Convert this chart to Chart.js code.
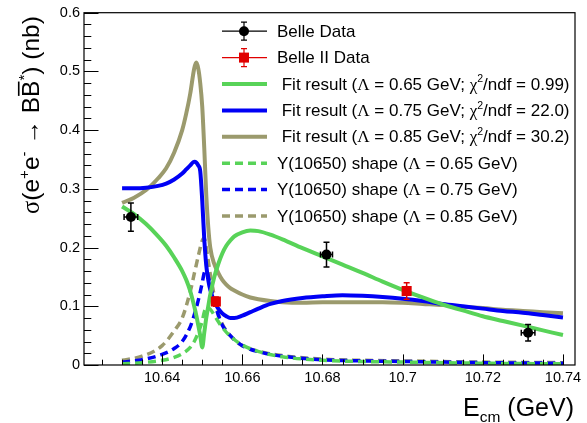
<!DOCTYPE html>
<html>
<head>
<meta charset="utf-8">
<script src="https://cdn.jsdelivr.net/npm/chart.js@4.4.0/dist/chart.umd.min.js"></script>
<style>
html, body { margin: 0; padding: 0; background: #fff; }
#layout { width: 587px; height: 423px; }
</style>
</head>
<body>
<div id="layout"><canvas id="canvas" width="587" height="423"></canvas></div>
<script>
// x values (GeV) for the fit curves
var fitX = [10.630, 10.633, 10.636, 10.639, 10.641, 10.643, 10.645, 10.646, 10.647, 10.648,
	10.6485, 10.649, 10.6495, 10.650, 10.6505, 10.651, 10.6515, 10.652, 10.653, 10.654,
	10.655, 10.656, 10.657, 10.658, 10.660, 10.662, 10.664, 10.667, 10.670, 10.675,
	10.680, 10.685, 10.690, 10.695, 10.700, 10.705, 10.710, 10.715, 10.720, 10.725,
	10.730, 10.735, 10.740];
var fit065 = [0.270, 0.257, 0.240, 0.219, 0.203, 0.183, 0.160, 0.145, 0.126, 0.100,
	0.085, 0.068, 0.050, 0.030, 0.055, 0.080, 0.100, 0.120, 0.150, 0.172,
	0.190, 0.203, 0.212, 0.219, 0.226, 0.229, 0.228, 0.222, 0.214, 0.199,
	0.185, 0.171, 0.157, 0.142, 0.128, 0.115, 0.103, 0.093, 0.083, 0.075,
	0.067, 0.059, 0.051];
var fit075 = [0.301, 0.301, 0.302, 0.305, 0.309, 0.316, 0.326, 0.333, 0.340, 0.346,
	0.345, 0.340, 0.330, 0.280, 0.215, 0.170, 0.145, 0.128, 0.108, 0.096,
	0.088, 0.083, 0.080, 0.080, 0.084, 0.090, 0.096, 0.104, 0.109, 0.114,
	0.117, 0.119, 0.118, 0.116, 0.113, 0.109, 0.104, 0.100, 0.096, 0.092,
	0.089, 0.085, 0.081];
var fit085 = [0.276, 0.285, 0.298, 0.318, 0.335, 0.362, 0.400, 0.428, 0.462, 0.505,
	0.515, 0.505, 0.480, 0.440, 0.370, 0.290, 0.235, 0.200, 0.172, 0.157,
	0.145, 0.137, 0.131, 0.127, 0.120, 0.115, 0.112, 0.109, 0.107, 0.106,
	0.107, 0.107, 0.107, 0.107, 0.106, 0.104, 0.102, 0.099, 0.097, 0.094,
	0.092, 0.090, 0.088];

// Y(10650) shapes
var shapeX = [10.630, 10.635, 10.640, 10.643, 10.645, 10.647, 10.648, 10.649, 10.650, 10.6505,
	10.651, 10.652, 10.653, 10.654, 10.655, 10.657, 10.660, 10.665, 10.670, 10.680,
	10.690, 10.700, 10.720, 10.740];
var shape065 = [0.002, 0.004, 0.008, 0.013, 0.019, 0.030, 0.040, 0.055, 0.075, 0.090,
	0.098, 0.095, 0.085, 0.074, 0.064, 0.049, 0.034, 0.021, 0.014, 0.008,
	0.006, 0.005, 0.003, 0.002];
var shape075 = [0.005, 0.009, 0.018, 0.028, 0.040, 0.065, 0.085, 0.110, 0.140, 0.157,
	0.160, 0.135, 0.108, 0.085, 0.068, 0.050, 0.033, 0.021, 0.015, 0.009,
	0.007, 0.006, 0.004, 0.003];
var shape085 = [0.008, 0.015, 0.033, 0.058, 0.080, 0.125, 0.155, 0.185, 0.212, 0.216,
	0.200, 0.155, 0.118, 0.088, 0.070, 0.050, 0.033, 0.022, 0.016, 0.010,
	0.008, 0.007, 0.005, 0.004];

// measurements
var belleX = [10.6322, 10.6810, 10.7313];
var belleY = [0.252, 0.188, 0.055];
var belleXErr = [0.0017, 0.0015, 0.0017];
var belleYErr = [0.024, 0.021, 0.014];
var belle2X = [10.6534, 10.7010];
var belle2Y = [0.108, 0.126];
var belle2YErr = [0.008, 0.014];

var xTicks = [10.64, 10.66, 10.68, 10.70, 10.72, 10.74];
var xTickLabels = ['10.64', '10.66', '10.68', '10.7', '10.72', '10.74'];
var yTickLabels = ['0', '0.1', '0.2', '0.3', '0.4', '0.5', '0.6'];

var lambdas = ['0.65', '0.75', '0.85'];
var chi2 = ['0.99', '22.0', '30.2'];

var green = '#58d358', blue = '#0000f5', olive = '#9b9a6d';
var SANS = '"Liberation Sans", Arial, sans-serif';
var SERIF = '"Liberation Serif", "Times New Roman", serif';

function pts(xs, ys) {
	return xs.map(function(x, i) { return { x: x, y: ys[i] }; });
}

function curve(label, xs, ys, color, dashed) {
	return {
		label: label, data: pts(xs, ys), type: 'line', showLine: true,
		borderColor: color, backgroundColor: color,
		borderWidth: dashed ? 3.5 : 4, borderDash: dashed ? [8, 5] : [],
		pointRadius: 0, cubicInterpolationMode: 'monotone', fill: false,
		order: dashed ? 3 : 2
	};
}

// draws text with super/subscripts, returns width
function rich(ctx, parts, x, y, size, draw) {
	var cx = x;
	parts.forEach(function(p) {
		if (typeof p === 'string') p = { t: p };
		var fs = (p.sup || p.sub) ? size * 0.62 : size;
		ctx.font = fs + 'px ' + (p.serif ? SERIF : SANS);
		var dy = p.sup ? -size * 0.42 : (p.sub ? size * 0.25 : 0);
		var w = ctx.measureText(p.t).width;
		if (draw) {
			ctx.fillText(p.t, cx, y + dy);
			if (p.over) ctx.fillRect(cx + 1, y - size * 0.86, w - 2, 1.6);
		}
		cx += w;
	});
	return cx - x;
}

function errBar(ctx, px, py, yLo, yHi, xLo, xHi, cap) {
	ctx.beginPath();
	ctx.moveTo(px, yLo); ctx.lineTo(px, yHi);
	ctx.moveTo(px - cap, yLo); ctx.lineTo(px + cap, yLo);
	ctx.moveTo(px - cap, yHi); ctx.lineTo(px + cap, yHi);
	if (xLo !== null) {
		ctx.moveTo(xLo, py); ctx.lineTo(xHi, py);
		ctx.moveTo(xLo, py - cap); ctx.lineTo(xLo, py + cap);
		ctx.moveTo(xHi, py - cap); ctx.lineTo(xHi, py + cap);
	}
	ctx.stroke();
}

var rootStyle = {
	id: 'rootStyle',
	beforeDatasetDraw: function(chart, args) {
		var ctx = chart.ctx, xs = chart.scales.x, ys = chart.scales.y;
		var lbl = chart.data.datasets[args.index].label;
		ctx.save();
		ctx.lineWidth = 1.5;
		if (lbl === 'Belle Data') {
			ctx.strokeStyle = '#000';
			belleX.forEach(function(x, i) {
				errBar(ctx, xs.getPixelForValue(x), ys.getPixelForValue(belleY[i]),
					ys.getPixelForValue(belleY[i] - belleYErr[i]), ys.getPixelForValue(belleY[i] + belleYErr[i]),
					xs.getPixelForValue(x - belleXErr[i]), xs.getPixelForValue(x + belleXErr[i]), 3);
			});
		} else if (lbl === 'Belle II Data') {
			ctx.strokeStyle = '#e00000';
			belle2X.forEach(function(x, i) {
				errBar(ctx, xs.getPixelForValue(x), ys.getPixelForValue(belle2Y[i]),
					ys.getPixelForValue(belle2Y[i] - belle2YErr[i]), ys.getPixelForValue(belle2Y[i] + belle2YErr[i]),
					null, null, 3);
			});
		}
		ctx.restore();
	},
	afterDraw: function(chart) {
		var ctx = chart.ctx, a = chart.chartArea, xs = chart.scales.x, ys = chart.scales.y;
		ctx.save();
		// frame
		ctx.strokeStyle = '#000';
		ctx.lineWidth = 1.2;
		ctx.strokeRect(a.left, a.top, a.right - a.left, a.bottom - a.top);
		// inward ticks
		ctx.lineWidth = 1;
		ctx.beginPath();
		for (var i = 0; i <= 30; i++) {
			var py = Math.round(ys.getPixelForValue(i * 0.02)) + 0.5;
			var len = (i % 5 === 0) ? 14.5 : 7.3;
			ctx.moveTo(a.left, py); ctx.lineTo(a.left + len, py);
		}
		for (var k = Math.ceil(xs.min / 0.005); k * 0.005 <= xs.max + 1e-9; k++) {
			var px = Math.round(xs.getPixelForValue(k * 0.005)) + 0.5;
			var l2 = (k % 4 === 0) ? 10.6 : 5.3;
			ctx.moveTo(px, a.bottom); ctx.lineTo(px, a.bottom - l2);
		}
		ctx.stroke();

		ctx.fillStyle = '#000';
		ctx.textBaseline = 'alphabetic';
		ctx.textAlign = 'left';
		// x title
		var xt = ['E', { t: 'cm', sub: true }, ' (GeV)'];
		var w = rich(ctx, xt, 0, 0, 25, false);
		rich(ctx, xt, 574 - w, 416, 25, true);
		// y title
		var yt = [{ t: 'σ', serif: true }, '(e', { t: '+', sup: true }, 'e', { t: '-', sup: true }, ' → B',
			{ t: 'B', over: true }, { t: '*', sup: true }, ') (nb)'];
		ctx.save();
		ctx.translate(39, 115);
		ctx.rotate(-Math.PI / 2);
		var wy = rich(ctx, yt, 0, 0, 24.5, false);
		rich(ctx, yt, -wy / 2, 0, 24.5, true);
		ctx.restore();

		// legend
		var base = 36.7, step = 26.4, sx0 = 222, sx1 = 267, sxc = 244, tx = 277, fs = 17;
		var entries = [];
		entries.push({ kind: 'belle', text: ['Belle Data'] });
		entries.push({ kind: 'belle2', text: ['Belle II Data'] });
		var cols = [green, blue, olive];
		lambdas.forEach(function(l, i) {
			entries.push({ kind: 'fit', color: cols[i], text: [' Fit result (', { t: 'Λ', serif: true }, ' = ' + l + ' GeV; ',
				{ t: 'χ', serif: true }, { t: '2', sup: true }, '/ndf = ' + chi2[i] + ')'] });
		});
		lambdas.forEach(function(l, i) {
			entries.push({ kind: 'shape', color: cols[i], text: ['Y(10650) shape (', { t: 'Λ', serif: true }, ' = ' + l + ' GeV)'] });
		});
		entries.forEach(function(e, i) {
			var by = base + i * step, cy = by - 5.5;
			ctx.save();
			if (e.kind === 'belle' || e.kind === 'belle2') {
				var c = e.kind === 'belle' ? '#000' : '#e00000';
				ctx.strokeStyle = c; ctx.fillStyle = c; ctx.lineWidth = 1.2;
				ctx.beginPath(); ctx.moveTo(sx0, cy); ctx.lineTo(sx1, cy); ctx.stroke();
				errBar(ctx, sxc, cy, cy + 9, cy - 9, null, null, 3);
				ctx.beginPath();
				if (e.kind === 'belle') ctx.arc(sxc, cy, 5, 0, Math.PI * 2);
				else ctx.rect(sxc - 5, cy - 5, 10, 10);
				ctx.fill();
			} else {
				ctx.strokeStyle = e.color;
				ctx.lineWidth = e.kind === 'fit' ? 4 : 3.5;
				ctx.setLineDash(e.kind === 'fit' ? [] : [8, 5]);
				ctx.beginPath(); ctx.moveTo(sx0, cy); ctx.lineTo(sx1, cy); ctx.stroke();
			}
			ctx.restore();
			ctx.fillStyle = '#000';
			rich(ctx, e.text, tx, by, fs, true);
		});
		ctx.restore();
	}
};

var ctx = document.getElementById('canvas').getContext('2d');
var config = {
	type: 'scatter',
	data: {
		datasets: [
			{ label: 'Belle Data', data: pts(belleX, belleY), pointStyle: 'circle', pointRadius: 5,
				backgroundColor: '#000', borderColor: '#000', borderWidth: 0, order: 0 },
			{ label: 'Belle II Data', data: pts(belle2X, belle2Y), pointStyle: 'rect', pointRadius: 7.1,
				backgroundColor: '#e00000', borderColor: '#e00000', borderWidth: 0, order: 0 },
			curve('Fit 0.65', fitX, fit065, green, false),
			curve('Fit 0.75', fitX, fit075, blue, false),
			curve('Fit 0.85', fitX, fit085, olive, false),
			curve('Shape 0.65', shapeX, shape065, green, true),
			curve('Shape 0.75', shapeX, shape075, blue, true),
			curve('Shape 0.85', shapeX, shape085, olive, true)
		]
	},
	options: {
		responsive: false,
		animation: false,
		layout: { padding: { left: 0, right: 12, top: 12, bottom: 0 } },
		plugins: { legend: { display: false }, tooltip: { enabled: false } },
		scales: {
			x: {
				type: 'linear', min: 10.6205, max: 10.743,
				grid: { display: false, drawTicks: false },
				border: { display: false },
				afterFit: function(s) { s.height = 58; },
				afterBuildTicks: function(s) { s.ticks = xTicks.map(function(v) { return { value: v }; }); },
				ticks: {
					autoSkip: false, maxRotation: 0, padding: 4, color: '#000',
					font: { family: SANS, size: 14.5 },
					callback: function(v) { var i = xTicks.indexOf(v); return i >= 0 ? xTickLabels[i] : ''; }
				}
			},
			y: {
				type: 'linear', min: 0, max: 0.6,
				grid: { display: false, drawTicks: false },
				border: { display: false },
				afterFit: function(s) { s.width = 84; },
				ticks: {
					stepSize: 0.1, padding: 4, color: '#000',
					font: { family: SANS, size: 14.5 },
					callback: function(v) { return yTickLabels[Math.round(v * 10)]; }
				}
			}
		}
	},
	plugins: [rootStyle]
};
window.myLine = new Chart(ctx, config);
</script>
</body>
</html>
